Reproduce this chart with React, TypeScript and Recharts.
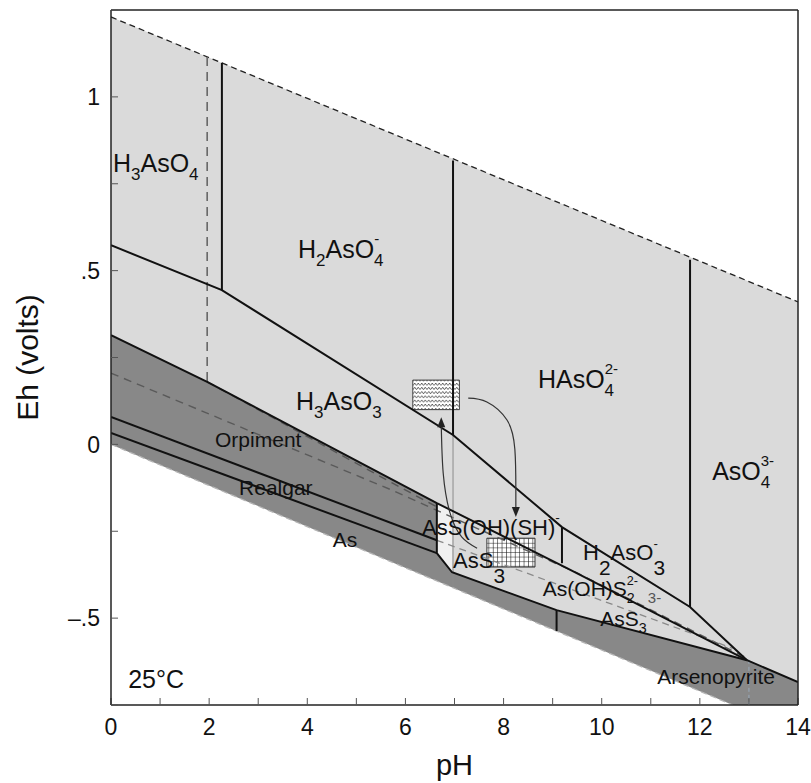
import React from 'react';
import {
  ComposedChart, XAxis, YAxis, Line, Area, ReferenceArea, ReferenceDot,
} from 'recharts';

// ---- data (pH, Eh in volts) ----
const phTicks = [0, 1, 2, 3, 4, 5, 6, 7, 8, 9, 10, 11, 12, 13, 14];
const ehTicks = [-0.75, -0.5, -0.25, 0, 0.25, 0.5, 0.75, 1, 1.25];

const waterUpper = [[0, 1.23], [14, 0.41]];
const waterLower = [[0, 0], [12.67, -0.75]];

// regions
const lightRegion = [[0, -0.75, 1.23], [14, -0.75, 0.41]];
const solidRegion = [
  [0, -0.75, 0.314], [1.96, -0.75, 0.18], [6.64, -0.75, -0.169], [6.64, -0.75, -0.313],
  [6.95, -0.75, -0.368], [9.08, -0.75, -0.477], [12.96, -0.75, -0.621], [14, -0.75, -0.684],
];
const belowWater = [[0, -0.75, 0], [12.67, -0.75, -0.75]];
const paleRegion = [[6.64, -0.313, -0.169], [6.95, -0.368, -0.19]];

// solid boundaries
const asVasIII = [[0, 0.573], [2.26, 0.444], [6.97, 0.027], [9.19, -0.238], [11.8, -0.468], [12.96, -0.621]];
const sulfideTop = [[0, 0.314], [1.96, 0.18], [6.64, -0.169], [9.29, -0.356], [12.96, -0.621]];
const solidEdge = [[6.64, -0.169], [6.64, -0.313], [6.95, -0.368], [9.08, -0.477], [12.96, -0.621], [14, -0.684]];
const orpRealgar = [[0, 0.079], [6.64, -0.276]];
const realgarAs = [[0, 0.033], [6.64, -0.313]];
const v226 = [[2.26, 1.098], [2.26, 0.444]];
const v697 = [[6.97, 0.817], [6.97, 0.027]];
const v919 = [[9.19, -0.238], [9.19, -0.342]];
const v118 = [[11.8, 0.531], [11.8, -0.468]];
const v908 = [[9.08, -0.477], [9.08, -0.537]];

// dashed / faint boundaries
const v196 = [[1.96, 1.115], [1.96, 0.18]];
const dashA = [[1.96, 0.18], [5.73, -0.111], [6.64, -0.18]];
const dashB = [[0, 0.205], [5.73, -0.132], [6.64, -0.19], [9.5, -0.37], [12.96, -0.615]];
const orpRealgarMeta = [[6.64, -0.276], [12.67, -0.587]];
const faint697 = [[6.97, 0.027], [6.97, -0.41]];
const faint13 = [[13, -0.62], [13, -0.75]];

// arrows
const arrowDown = [[7.28, 0.133], [7.66, 0.122], [8.07, 0.07], [8.23, -0.014], [8.25, -0.129], [8.25, -0.19]];
const arrowUp = [[7.46, -0.299], [7.15, -0.267], [6.91, -0.198], [6.77, -0.083], [6.73, 0.06]];
const arrowTips = [{ ph: 8.25, eh: -0.209, dir: 1 }, { ph: 6.73, eh: 0.078, dir: -1 }];

// boxes [ph1, ph2, eh1, eh2]
const wavyBox = [6.15, 7.1, 0.1, 0.185];
const gridBox = [7.66, 8.64, -0.353, -0.27];

// labels: position of baseline start, text parts
type Part = [string, string?, string?];
const labels: { ph: number; eh: number; kind: string; parts: Part[] }[] = [
  { ph: 0.04, eh: 0.784, kind: 'big', parts: [['H'], ['3', 'sub'], ['AsO'], ['4', 'sub']] },
  { ph: 3.81, eh: 0.536, kind: 'big', parts: [['H'], ['2', 'sub'], ['AsO'], ['4', 'stack', '-']] },
  { ph: 8.7, eh: 0.162, kind: 'big', parts: [['HAsO'], ['4', 'stack', '2-']] },
  { ph: 12.25, eh: -0.103, kind: 'big', parts: [['AsO'], ['4', 'stack', '3-']] },
  { ph: 3.77, eh: 0.099, kind: 'big', parts: [['H'], ['3', 'sub'], ['AsO'], ['3', 'sub']] },
  { ph: 2.12, eh: -0.008, kind: 'mid', parts: [['Orpiment']] },
  { ph: 2.61, eh: -0.146, kind: 'mid', parts: [['Realgar']] },
  { ph: 4.52, eh: -0.296, kind: 'mid', parts: [['As']] },
  { ph: 6.34, eh: -0.261, kind: 'mid2', parts: [['AsS(OH)(SH)'], ['-', 'sup']] },
  { ph: 6.97, eh: -0.356, kind: 'mid2', parts: [['AsS'], ['3', 'low']] },
  { ph: 9.62, eh: -0.333, kind: 'mid2', parts: [['H'], ['2', 'low'], ['AsO'], ['3', 'lowstack', '-']] },
  { ph: 8.8, eh: -0.437, kind: 'mid', parts: [['As(OH)S'], ['2', 'stack', '2-']] },
  { ph: 10.94, eh: -0.457, kind: 'small', parts: [['3-']] },
  { ph: 9.97, eh: -0.524, kind: 'mid', parts: [['AsS'], ['3', 'sub']] },
  { ph: 11.13, eh: -0.69, kind: 'mid', parts: [['Arsenopyrite']] },
  { ph: 0.35, eh: -0.702, kind: 'big', parts: [['25°C']] },
];

// ---- helpers ----
const FONT = "'Liberation Sans', Arial, Helvetica, sans-serif";
const pts = (a: number[][]) => a.map(([ph, eh]) => ({ ph, eh }));
const rng = (a: number[][]) => a.map(([ph, lo, hi]) => ({ ph, r: [lo, hi] }));
const kindSize: Record<string, number> = { big: 25, mid: 21, mid2: 22, small: 15 };

function chemShape(parts: Part[], size: number, fill: string) {
  return (props: any) => {
    const { cx, cy } = props;
    let shift = 0;
    const spans: React.ReactNode[] = [];
    const push = (t: string, off: number, fs: number, dx = 0) => {
      spans.push(
        <tspan key={spans.length} dy={off - shift} dx={dx || undefined} fontSize={fs}>{t}</tspan>
      );
      shift = off;
    };
    parts.forEach(([t, k = 'n', t2]) => {
      if (k === 'n') push(t, 0, size);
      else if (k === 'sub') push(t, size * 0.32, size * 0.68);
      else if (k === 'low') push(t, size * 0.68, size * 0.95);
      else if (k === 'sup') push(t, -size * 0.6, size * 0.62);
      else if (k === 'stack' || k === 'lowstack') {
        const low = k === 'lowstack';
        const fs = low ? size * 0.95 : size * 0.68;
        push(t, low ? size * 0.68 : size * 0.32, fs);
        push(t2 || '', -size * 0.55, size * 0.6, -0.556 * fs * t.length);
      }
    });
    return (
      <text x={cx} y={cy} fontFamily={FONT} fontSize={size} fill={fill}>{spans}</text>
    );
  };
}

const arrowHead = (dir: number) => (props: any) => {
  const { cx, cy } = props;
  return (
    <path d={`M${cx - 4},${cy - dir * 10} L${cx + 4},${cy - dir * 10} L${cx},${cy} Z`} fill="#222" />
  );
};

const fmtEh = (v: number) => {
  if (Math.abs(v % 0.5) > 1e-9 || v > 1.1 || v < -0.6) return '';
  if (v === 0) return '0';
  if (v === 1) return '1';
  return v < 0 ? '–.5' : '.5';
};
const fmtPh = (v: number) => (v % 2 === 0 ? String(v) : '');

const lineProps = {
  dataKey: 'eh', dot: false, activeDot: false, isAnimationActive: false, type: 'linear' as const,
  legendType: 'none' as const,
};
const areaProps = {
  dataKey: 'r', dot: false, activeDot: false, isAnimationActive: false, type: 'linear' as const,
  stroke: 'none', fillOpacity: 1, legendType: 'none' as const,
};

export default function App() {
  const LIGHT = '#dadada';
  const DARK = '#888888';
  return (
    <div style={{ width: 811, height: 783, overflow: 'hidden' }}>
      <style>{'html,body{margin:0;overflow:hidden;background:#fff}'}</style>
      <ComposedChart width={811} height={783} margin={{ top: 9, right: 12, bottom: 0, left: 0 }}>
        <defs>
          <pattern id="wavy" width="7" height="4.2" patternUnits="userSpaceOnUse">
            <rect width="7" height="4.2" fill="#fff" />
            <path d="M0,3.2 L1.75,0.9 L3.5,3.2 L5.25,0.9 L7,3.2" stroke="#444" strokeWidth="0.8" fill="none" />
          </pattern>
          <pattern id="grid" width="4.4" height="4.6" patternUnits="userSpaceOnUse">
            <rect width="4.4" height="4.6" fill="#fff" />
            <path d="M0,0 L4.4,0 M0,0 L0,4.6" stroke="#111" strokeWidth="1.1" fill="none" />
          </pattern>
        </defs>

        <XAxis
          dataKey="ph" type="number" domain={[0, 14]} ticks={phTicks} allowDataOverflow
          height={78} tickSize={-7} tickMargin={21} tickFormatter={fmtPh} interval={0}
          axisLine={{ stroke: '#222', strokeWidth: 1.5 }} tickLine={{ stroke: '#555' }}
          tick={{ fill: '#111', fontSize: 23, fontFamily: FONT }}
          label={{ value: 'pH', position: 'insideBottom', offset: 8, fill: '#111', fontSize: 29, fontFamily: FONT }}
        />
        <XAxis
          xAxisId="top" orientation="top" dataKey="ph" type="number" domain={[0, 14]} ticks={phTicks}
          height={1} tickSize={-7} tickFormatter={() => ''} interval={0}
          axisLine={{ stroke: '#222', strokeWidth: 1.5 }} tickLine={{ stroke: '#555' }}
        />
        <YAxis
          type="number" domain={[-0.75, 1.25]} ticks={ehTicks} allowDataOverflow
          width={111} tickSize={-7} tickMargin={18} tickFormatter={fmtEh} interval={0}
          axisLine={{ stroke: '#222', strokeWidth: 1.5 }} tickLine={{ stroke: '#555' }}
          tick={{ fill: '#111', fontSize: 23, fontFamily: FONT }}
          label={{
            value: 'Eh (volts)', angle: -90, position: 'insideLeft', offset: 27,
            fill: '#111', fontSize: 30, fontFamily: FONT, style: { textAnchor: 'middle' },
          }}
        />
        <YAxis
          yAxisId="right" orientation="right" type="number" domain={[-0.75, 1.25]} ticks={ehTicks}
          width={1} tickSize={-7} tickFormatter={() => ''} interval={0}
          axisLine={{ stroke: '#222', strokeWidth: 1.5 }} tickLine={{ stroke: '#555' }}
        />

        <Area {...areaProps} data={rng(lightRegion)} fill={LIGHT} />
        <Area {...areaProps} data={rng(solidRegion)} fill={DARK} />
        <Area {...areaProps} data={rng(belowWater)} fill="#fff" />
        <Area {...areaProps} data={rng(paleRegion)} fill="#f1f1f1" />

        <Line {...lineProps} data={pts(waterUpper)} stroke="#222" strokeWidth={1.3} strokeDasharray="6 4" />
        <Line {...lineProps} data={pts(waterLower)} stroke="#b5b5b5" strokeWidth={1.3} strokeDasharray="6 4" />
        <Line {...lineProps} data={pts(v196)} stroke="#666" strokeWidth={1.6} strokeDasharray="9 6" />
        <Line {...lineProps} data={pts(dashA)} stroke="#555" strokeWidth={1.4} strokeDasharray="8 6" />
        <Line {...lineProps} data={pts(dashB)} stroke="#5a5a5a" strokeWidth={1.4} strokeDasharray="8 6" />
        <Line {...lineProps} data={pts(orpRealgarMeta)} stroke="#8a8a8a" strokeWidth={1.3} strokeDasharray="7 5" />
        <Line {...lineProps} data={pts(faint697)} stroke="#8c8c8c" strokeWidth={1} />
        <Line {...lineProps} data={pts(faint13)} stroke="#9ab" strokeWidth={1} strokeDasharray="4 3" />

        {[asVasIII, sulfideTop, solidEdge, orpRealgar, realgarAs, v226, v697, v919, v118, v908].map((s, i) => (
          <Line key={i} {...lineProps} data={pts(s)} stroke="#111" strokeWidth={2} />
        ))}

        <ReferenceArea x1={wavyBox[0]} x2={wavyBox[1]} y1={wavyBox[2]} y2={wavyBox[3]}
          fill="url(#wavy)" fillOpacity={1} stroke="#444" strokeWidth={1} />
        <ReferenceArea x1={gridBox[0]} x2={gridBox[1]} y1={gridBox[2]} y2={gridBox[3]}
          fill="url(#grid)" fillOpacity={1} stroke="#333" strokeWidth={1} />

        <Line {...lineProps} data={pts(arrowDown)} type="natural" stroke="#333" strokeWidth={1.2} />
        <Line {...lineProps} data={pts(arrowUp)} type="natural" stroke="#333" strokeWidth={1.2} />
        {arrowTips.map((a, i) => (
          <ReferenceDot key={'a' + i} x={a.ph} y={a.eh} r={0} shape={arrowHead(a.dir)} />
        ))}

        {labels.map((l, i) => (
          <ReferenceDot key={'l' + i} x={l.ph} y={l.eh} r={0} ifOverflow="visible"
            shape={chemShape(l.parts, kindSize[l.kind], l.kind === 'small' ? '#555' : '#111')} />
        ))}
      </ComposedChart>
    </div>
  );
}
